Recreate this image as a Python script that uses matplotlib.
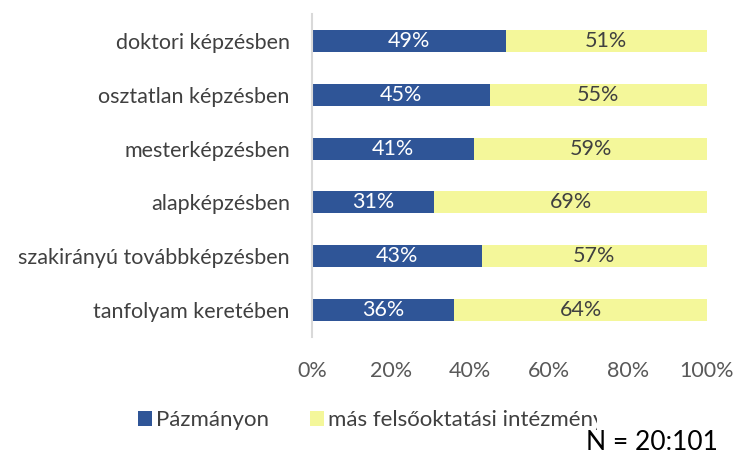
import matplotlib.pyplot as plt
from matplotlib.patches import Rectangle
import numpy as np

plt.rcParams['font.family'] = ['Lato', 'DejaVu Sans']

categories = ["doktori képzésben", "osztatlan képzésben", "mesterképzésben",
              "alapképzésben", "szakirányú továbbképzésben", "tanfolyam keretében"]
pazmany = np.array([49, 45, 41, 31, 43, 36])
mas = np.array([51, 55, 59, 69, 57, 64])
series_names = ["Pázmányon", "más felsőoktatási intézményben"]

blue = "#2F5597"
yellow = "#F4F79A"

fig = plt.figure(figsize=(7.36, 4.58), dpi=100)
ax = fig.add_axes([312/736, 1 - 337/458, 395/736, 323/458])

y = np.arange(len(categories))
b1 = ax.barh(y, pazmany, height=0.41, color=blue, label=series_names[0])
b2 = ax.barh(y, mas, left=pazmany, height=0.41, color=yellow, label=series_names[1])

for i in range(len(categories)):
    ax.text(pazmany[i] / 2, y[i], f"{pazmany[i]}%", ha='center', va='center',
            color='white', fontsize=15.5)
    ax.text(pazmany[i] + mas[i] / 2, y[i], f"{mas[i]}%", ha='center', va='center',
            color='#404040', fontsize=15.5)

ax.set_xlim(0, 100)
ax.set_ylim(len(categories) - 0.5, -0.5)
ax.set_yticks(y)
ax.set_yticklabels(categories, fontsize=15.5, color='#404040')
ax.set_xticks(np.arange(0, 101, 20))
ax.set_xticklabels([f"{v}%" for v in range(0, 101, 20)], fontsize=15.5, color='#595959')
ax.tick_params(length=0, axis='y', pad=16)
ax.tick_params(length=0, axis='x', pad=17)
for s in ['top', 'right', 'bottom']:
    ax.spines[s].set_visible(False)
ax.spines['left'].set_color('#D9D9D9')
ax.spines['left'].set_linewidth(1.5)

leg = fig.legend(handles=[b1, b2], loc='center left', bbox_to_anchor=(118/736, 1 - 420/458),
                 ncol=2, frameon=False, fontsize=16, handlelength=0.65, handleheight=0.65,
                 handletextpad=0.15, columnspacing=1.85, labelcolor='#404040')

# white box of the N label hides the end of the legend text
fig.patches.append(Rectangle((597/736, 0), 139/736, 48/458, transform=fig.transFigure,
                             facecolor='white', edgecolor='none', zorder=10))
fig.text(718/736, 1 - 443/458, "N = 20:101", ha='right', va='center', fontsize=19,
         color='black', zorder=11)

fig.savefig("out.png", dpi=100)
